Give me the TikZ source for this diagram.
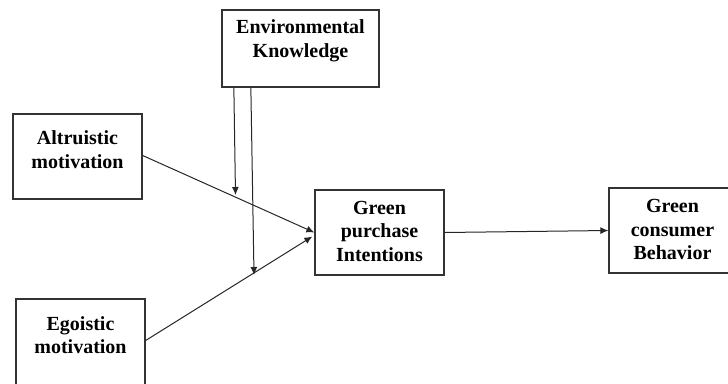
\documentclass[tikz,border=0pt]{standalone}
\usepackage{fontspec}
\setmainfont{Liberation Serif}
\usetikzlibrary{arrows.meta,calc}
\begin{document}
\begin{tikzpicture}[x=1pt,y=-1pt,
  box/.style={draw=black!80,line width=1.3pt,rectangle,inner sep=0pt,fill=white},
  lbl/.style={align=center,font=\bfseries\fontsize{20}{23.5}\selectfont,inner sep=0pt},
  arr/.style={draw=black!85,line width=1pt,-{Latex[length=8pt,width=7pt]}}]
\useasboundingbox (0,0) rectangle (728,383);
\clip (0,0) rectangle (728,383);
% boxes
\node[box,minimum width=157pt,minimum height=77pt] (ek) at (300.5,48.5) {};
\node[box,minimum width=129pt,minimum height=85pt] (alt) at (77.5,156.5) {};
\node[box,minimum width=129pt,minimum height=95pt] (ego) at (80.5,346.5) {};
\node[box,minimum width=129pt,minimum height=85pt] (gpi) at (379.5,232.5) {};
\node[box,minimum width=127pt,minimum height=85pt] (gcb) at (672.5,230.5) {};
% texts
\node[lbl] (ekt) at (300.5,41) {Environmental\\Knowledge};
\node[lbl] (altt) at (77.5,149.5) {Altruistic\\motivation};
\node[lbl] (egot) at (80.5,335) {Egoistic\\motivation};
\node[lbl] (gpit) at (379.5,231) {Green\\purchase\\Intentions};
\node[lbl] (gcbt) at (672.5,229.5) {Green\\consumer\\Behavior};
% moderator arrow ends
\coordinate (k1) at (235.5,195);
\coordinate (k2) at (254,275);
% connectors
\draw[arr] ($(alt.east)+(0,-1)$) -- (gpi.west);
\draw[arr] ($(ego.east)+(0,-6)$) -- ($(gpi.west)+(-2,4)$);
\draw[arr] ($(ek.south west)+(12.5,0)$) -- (k1);
\draw[arr] ($(ek.south west)+(29.5,0)$) -- (k2);
\draw[arr] (gpi.east) -- (gcb.west);
\end{tikzpicture}
\end{document}
